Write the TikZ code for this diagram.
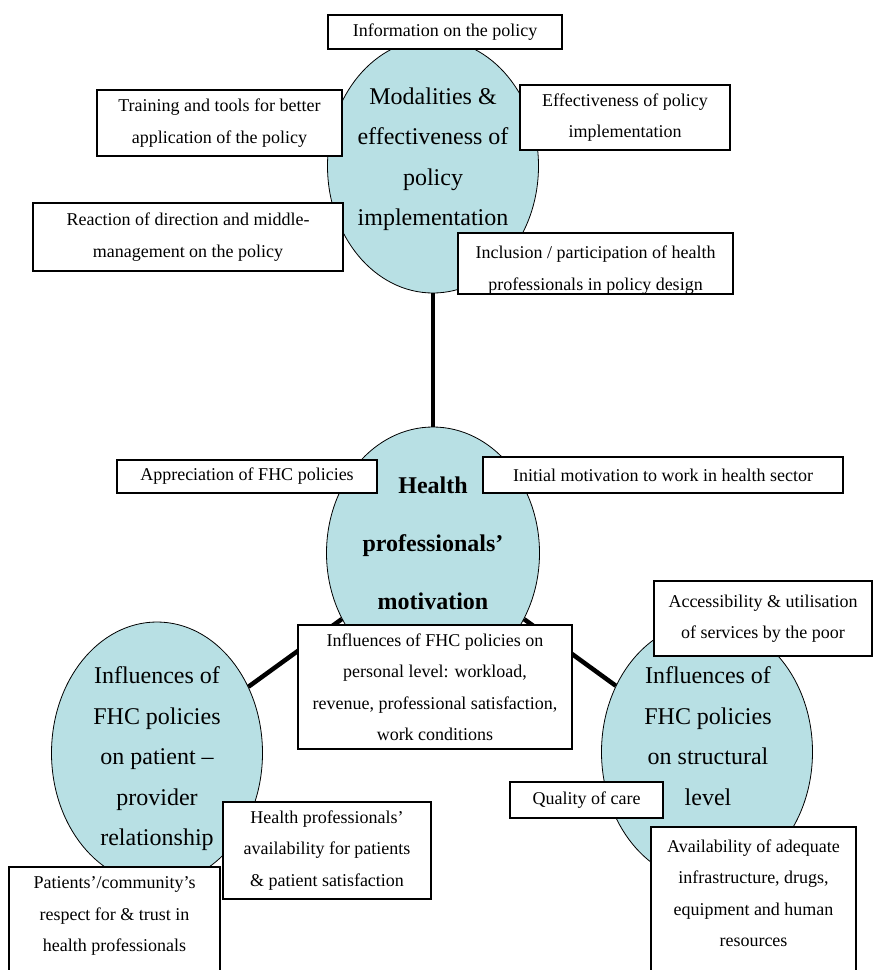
\documentclass[tikz,border=0pt]{standalone}
\usepackage{fontspec}
\setmainfont{Liberation Serif}
\usetikzlibrary{shapes.geometric}
\definecolor{blobfill}{RGB}{184,224,228}
\tikzset{
    blob/.style={ellipse, draw, fill=blobfill, line width=0.8pt, inner sep=0pt},
    infobox/.style={draw, fill=white, line width=1.2pt, inner sep=0pt},
    boxtext/.style={align=center, inner sep=0pt, font=\fontsize{18}{31.5}\selectfont},
    bigtext/.style={align=center, inner sep=0pt, font=\fontsize{24}{40.5}\selectfont},
    link/.style={line width=4.5pt}
}
\begin{document}
\begin{tikzpicture}[x=1pt,y=-1pt]
        \useasboundingbox (0,0) rectangle (873,970);
        \node[blob, minimum width=211pt, minimum height=254pt] (modal) at (433,166) {};
        \node[blob, minimum width=213pt, minimum height=252pt] (motiv) at (433,553) {};
        \node[blob, minimum width=211pt, minimum height=262pt] (patient) at (157,753) {};
        \node[blob, minimum width=211pt, minimum height=260pt] (struct) at (707,752) {};
        \draw[link] (modal) -- (motiv);
        \draw[link] (motiv) -- (patient);
        \draw[link] (motiv) -- (struct);
        \node[bigtext] (modaltxt) at (433,159) {Modalities \&\\effectiveness of\\policy\\implementation};
        \node[align=center, inner sep=0pt, font=\fontsize{24}{58}\selectfont\bfseries] (motivtxt) at (433,543) {Health\\professionals’\\motivation};
        \node[bigtext] (patienttxt) at (157,759) {Influences of\\FHC policies\\on patient --\\provider\\relationship};
        \node[bigtext] (structtxt) at (708,736) {Influences of\\FHC policies\\on structural\\level};
        \node[infobox, boxtext, minimum width=234pt, minimum height=34pt] (info) at (445,32) {Information on the policy};
        \node[infobox, boxtext, minimum width=245pt, minimum height=66pt] (train) at (219.5,123) {Training and tools for better\\application of the policy};
        \node[infobox, boxtext, minimum width=210pt, minimum height=65pt] (effect) at (625,117.5) {Effectiveness of policy\\implementation};
        \node[infobox, boxtext, minimum width=310pt, minimum height=68pt] (react) at (188,237) {Reaction of direction and middle-\\management on the policy};
        \node[infobox, minimum width=275pt, minimum height=61pt] (incl) at (595.5,263.5) {};
        \begin{scope}
            \clip (incl.south west) rectangle (incl.north east);
            \node[boxtext] (incltxt) at (595.5,270) {Inclusion / participation of health\\professionals in policy design};
        \end{scope}
        \draw[line width=1.2pt] (incl.south west) rectangle (incl.north east);
        \node[infobox, boxtext, minimum width=260pt, minimum height=33pt] (apprec) at (247,476.5) {Appreciation of FHC policies};
        \node[infobox, boxtext, minimum width=360pt, minimum height=36pt] (initial) at (663,475) {Initial motivation to work in health sector};
        \node[infobox, boxtext, minimum width=274pt, minimum height=124pt] (personal) at (435,687) {Influences of FHC policies on\\personal level: workload,\\revenue, professional satisfaction,\\work conditions};
        \node[infobox, boxtext, minimum width=218pt, minimum height=75pt] (access) at (763,618.5) {Accessibility \& utilisation\\of services by the poor};
        \node[infobox, boxtext, minimum width=153pt, minimum height=36pt] (quality) at (586.5,800) {Quality of care};
        \node[infobox, minimum width=205pt, minimum height=148pt] (avail) at (753.5,901) {};
        \node[boxtext] (availtxt) at (753.5,893) {Availability of adequate\\infrastructure, drugs,\\equipment and human\\resources};
        \node[infobox, boxtext, minimum width=208pt, minimum height=97pt] (hpavail) at (327,850.5) {Health professionals’\\availability for patients\\\& patient satisfaction};
        \node[infobox, minimum width=211pt, minimum height=110pt] (trust) at (114.5,922) {};
        \node[boxtext] (trusttxt) at (114.5,916) {Patients’/community’s\\respect for \& trust in\\health professionals};
\end{tikzpicture}
\end{document}
